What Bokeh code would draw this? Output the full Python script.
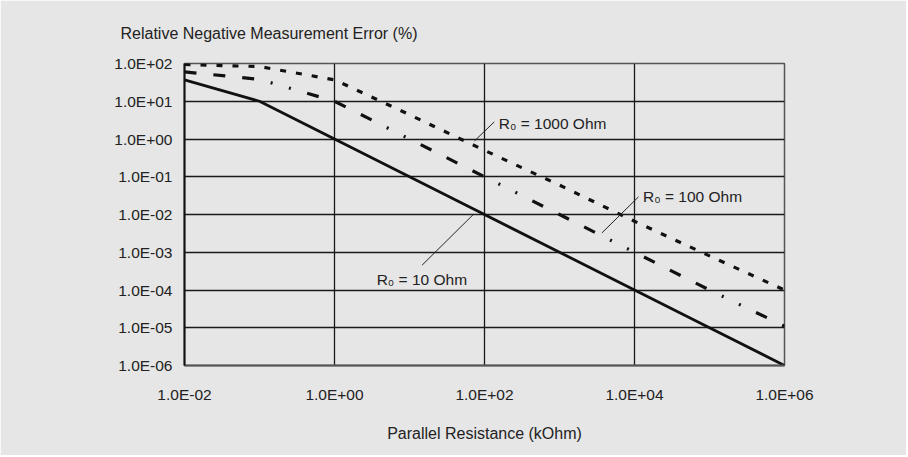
from bokeh.plotting import figure
from bokeh.models import FixedTicker, Title, Label, Range1d, CustomJSTickFormatter
from bokeh.embed import file_html
from bokeh.resources import INLINE

# ---- data ----
x_values = [1e-2, 1e-1, 1e0, 1e1, 1e2, 1e3, 1e4, 1e5, 1e6]
err_r0_10 = [37, 10, 1, 0.1, 0.01, 1e-3, 1e-4, 1e-5, 1e-6]
err_r0_100 = [60, 38, 10, 1.0, 0.1, 0.01, 1e-3, 1e-4, 1.1e-5]
err_r0_1000 = [94, 83, 37, 4.4, 0.5, 0.06, 0.0066, 8e-4, 1e-4]

x_ticks = [1e-2, 1e0, 1e2, 1e4, 1e6]
x_tick_labels = ["1.0E-02", "1.0E+00", "1.0E+02", "1.0E+04", "1.0E+06"]
y_ticks = [1e-6, 1e-5, 1e-4, 1e-3, 1e-2, 1e-1, 1e0, 1e1, 1e2]
y_tick_labels = ["1.0E-06", "1.0E-05", "1.0E-04", "1.0E-03", "1.0E-02",
                 "1.0E-01", "1.0E+00", "1.0E+01", "1.0E+02"]

series_labels = ["R\u2080 = 10 Ohm", "R\u2080 = 100 Ohm", "R\u2080 = 1000 Ohm"]

FONT = "Liberation Sans"
BG = "#e6e6e6"
TXT = "#222222"

p = figure(x_axis_type="log", y_axis_type="log",
           x_range=Range1d(1e-2, 1e6), y_range=Range1d(1e-6, 1e2),
           frame_width=600, frame_height=302,
           min_border_left=184, min_border_right=122,
           min_border_top=63, min_border_bottom=90,
           output_backend="svg", toolbar_location=None,
           background_fill_color=BG, border_fill_color=BG)

p.outline_line_color = "#555555"
p.outline_line_width = 1.5

fmt_code = """
let best = 0;
for (let i = 0; i < tvals.length; i++) {
  if (Math.abs(Math.log10(tvals[i]) - Math.log10(tick)) <
      Math.abs(Math.log10(tvals[best]) - Math.log10(tick))) best = i;
}
return tlabels[best];
"""

p.xaxis.ticker = FixedTicker(ticks=x_ticks)
p.xaxis.formatter = CustomJSTickFormatter(args=dict(tvals=x_ticks, tlabels=x_tick_labels), code=fmt_code)
p.yaxis.ticker = FixedTicker(ticks=y_ticks)
p.yaxis.formatter = CustomJSTickFormatter(args=dict(tvals=y_ticks, tlabels=y_tick_labels), code=fmt_code)

for ax in (p.xaxis[0], p.yaxis[0]):
    ax.major_tick_line_color = None
    ax.minor_tick_line_color = None
    ax.major_label_text_font = FONT
    ax.major_label_text_font_size = "15.5px"
    ax.major_label_text_color = TXT

p.yaxis.axis_line_color = "#111111"
p.yaxis.axis_line_width = 2
p.yaxis.major_label_standoff = 6
p.xaxis.axis_line_color = "#555555"
p.xaxis.axis_line_width = 2
p.xaxis.major_label_standoff = 14

p.xaxis.axis_label = "Parallel Resistance (kOhm)"
p.xaxis.axis_label_text_font = FONT
p.xaxis.axis_label_text_font_size = "16px"
p.xaxis.axis_label_text_font_style = "normal"
p.xaxis.axis_label_text_color = TXT
p.xaxis.axis_label_standoff = 19

p.xgrid.ticker = FixedTicker(ticks=[1e0, 1e2, 1e4])
p.ygrid.ticker = FixedTicker(ticks=y_ticks)
for g in (p.xgrid[0], p.ygrid[0]):
    g.grid_line_color = "#1a1a1a"
    g.grid_line_width = 1.3

p.title = Title(text="Relative Negative Measurement Error (%)", align="left", offset=-64,
                text_font=FONT, text_font_size="16px", text_font_style="normal",
                text_color=TXT, standoff=43)

# ---- series ----
p.line(x_values, err_r0_10, line_color="#111111", line_width=2.8)
p.line(x_values, err_r0_100, line_color="#111111", line_width=3.2,
       line_dash="12 17 12 17 12 17 2 17 2 17")
p.line(x_values, err_r0_1000, line_color="#111111", line_width=3.2, line_dash="6 10")

# ---- annotations (label text and leader lines) ----
ann_text_x = [3.65, 1.3e4, 155]
ann_text_y = [1.9e-4, 0.0305, 2.58]
lead_x0 = [14.7, 3680, 73.6]
lead_y0 = [4.54e-4, 0.00326, 0.89]
lead_x1 = [71.6, 1.13e4, 135]
lead_y1 = [0.0102, 0.0293, 2.84]

p.segment(x0=lead_x0, y0=lead_y0, x1=lead_x1, y1=lead_y1, line_color="#222222", line_width=1)
for tx, ty, tt in zip(ann_text_x, ann_text_y, series_labels):
    p.add_layout(Label(x=tx, y=ty, text=tt, text_align="left", text_baseline="middle",
                       text_font=FONT, text_font_size="15.5px", text_color=TXT))

open("out.html", "w").write(file_html(p, INLINE))
